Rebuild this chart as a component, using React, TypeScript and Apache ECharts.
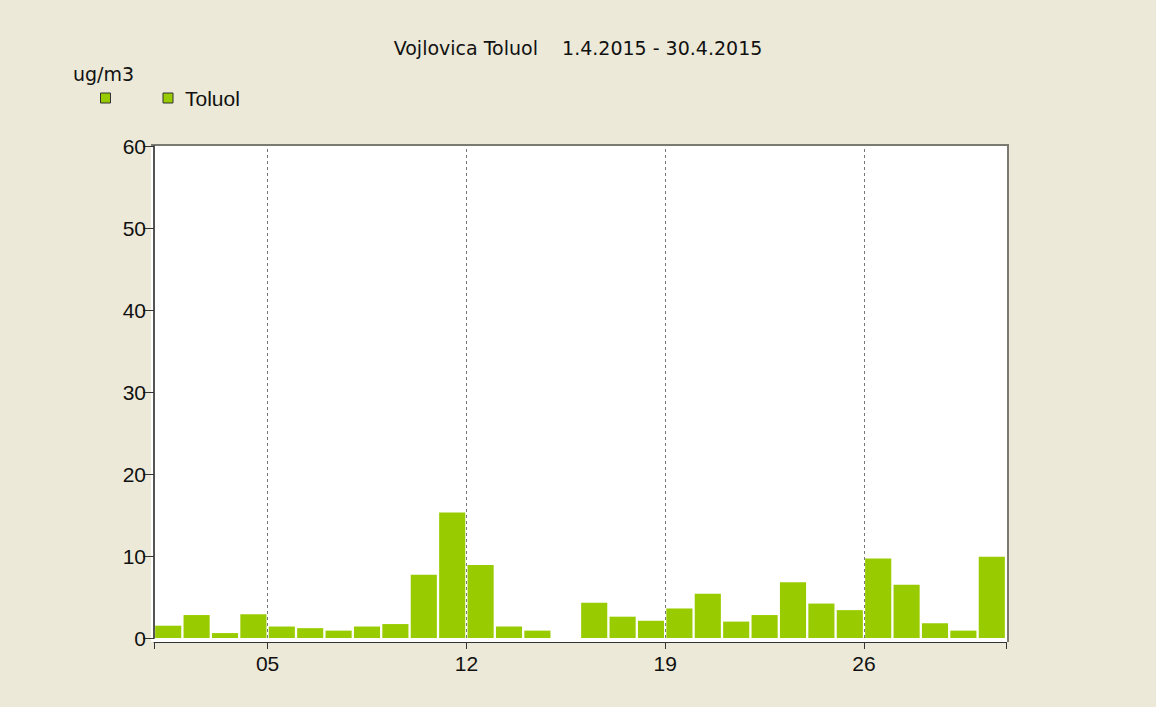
import React, { useEffect, useRef } from "react";
import * as echarts from "echarts";

const days: string[] = [
  "01","02","03","04","05","06","07","08","09","10",
  "11","12","13","14","15","16","17","18","19","20",
  "21","22","23","24","25","26","27","28","29","30",
];
const toluol: (number | null)[] = [
  1.5, 2.8, 0.6, 2.9, 1.4, 1.2, 0.9, 1.4, 1.7, 7.7,
  15.3, 8.9, 1.4, 0.9, null, 4.3, 2.6, 2.1, 3.6, 5.4,
  2.0, 2.8, 6.8, 4.2, 3.4, 9.7, 6.5, 1.8, 0.9, 9.9,
];
// day-boundary positions (days elapsed since 1.4.) and their labels
const tickPositions: number[] = [4, 11, 18, 25];
const tickLabels: string[] = ["05", "12", "19", "26"];
const yTicks: number[] = [0, 10, 20, 30, 40, 50, 60];

const GREEN = "#99CC00";
const FONT = "'Liberation Sans', Arial, sans-serif";
const WIDE = "'DejaVu Sans', Verdana, sans-serif";

export default function App() {
  const ref = useRef<HTMLDivElement>(null);
  useEffect(() => {
    document.body.style.margin = "0";
    const chart = echarts.init(ref.current!, undefined, { renderer: "svg" });
    chart.setOption({
      animation: false,
      backgroundColor: "#ECE9D8",
      title: {
        text: "Vojlovica Toluol    1.4.2015 - 30.4.2015",
        left: "center",
        top: 33,
        textStyle: { fontFamily: WIDE, fontSize: 19, fontWeight: "normal", color: "#111" },
      },
      grid: { left: 154, right: 150, top: 146, bottom: 69 },
      xAxis: [
        {
          type: "category",
          data: days,
          show: false,
          boundaryGap: true,
        },
        {
          type: "value",
          min: 0,
          max: days.length,
          position: "bottom",
          offset: 4,
          axisLine: { show: true, lineStyle: { color: "#333", width: 1 } },
          axisTick: {
            show: true,
            length: 7,
            customValues: [0, ...tickPositions, days.length],
            lineStyle: { color: "#333" },
          },
          axisLabel: {
            customValues: tickPositions,
            formatter: (v: number) => tickLabels[tickPositions.indexOf(v)] ?? "",
            fontFamily: FONT,
            fontSize: 21,
            color: "#111",
            margin: 11,
          },
          splitLine: { show: false },
        },
      ],
      yAxis: {
        type: "value",
        min: yTicks[0],
        max: yTicks[yTicks.length - 1],
        interval: 10,
        offset: 3,
        axisLine: { show: true, lineStyle: { color: "#555", width: 2 } },
        axisTick: { show: true, length: 11, lineStyle: { color: "#333" } },
        axisLabel: { fontFamily: FONT, fontSize: 21, color: "#111", margin: 5 },
        splitLine: { show: false },
      },
      graphic: [
        {
          type: "rect",
          z: -10,
          shape: { x: 151, y: 145, width: 857, height: 497 },
          style: { fill: "#fff", stroke: null },
          silent: true,
        },
        {
          type: "polyline",
          z: -9,
          shape: { points: [[151, 145], [1008, 145], [1008, 642]] },
          style: { stroke: "#7a7a72", lineWidth: 2, fill: null },
          silent: true,
        },
        {
          type: "text",
          x: 73,
          y: 74,
          style: {
            text: "ug/m3",
            font: `19px ${WIDE}`,
            fill: "#111",
            verticalAlign: "middle",
          },
        },
        {
          type: "rect",
          shape: { x: 100.5, y: 93, width: 10, height: 10 },
          style: { fill: GREEN, stroke: "#333", lineWidth: 1 },
        },
        {
          type: "rect",
          shape: { x: 163, y: 93, width: 10, height: 10 },
          style: { fill: GREEN, stroke: "#333", lineWidth: 1 },
        },
        {
          type: "text",
          x: 185,
          y: 98,
          style: {
            text: "Toluol",
            font: `21px ${FONT}`,
            fill: "#111",
            verticalAlign: "middle",
          },
        },
      ],
      series: [
        {
          type: "bar",
          name: "Toluol",
          xAxisIndex: 0,
          data: toluol,
          barCategoryGap: "8%",
          itemStyle: { color: GREEN, borderWidth: 0 },
        },
        {
          type: "line",
          xAxisIndex: 1,
          data: [],
          silent: true,
          markLine: {
            symbol: "none",
            silent: true,
            label: { show: false },
            lineStyle: { color: "#777", type: [3, 3], width: 1 },
            data: tickPositions.map((p) => ({ xAxis: p })),
          },
        },
      ],
    });
    return () => chart.dispose();
  }, []);
  return <div ref={ref} style={{ width: 1156, height: 707 }} />;
}
